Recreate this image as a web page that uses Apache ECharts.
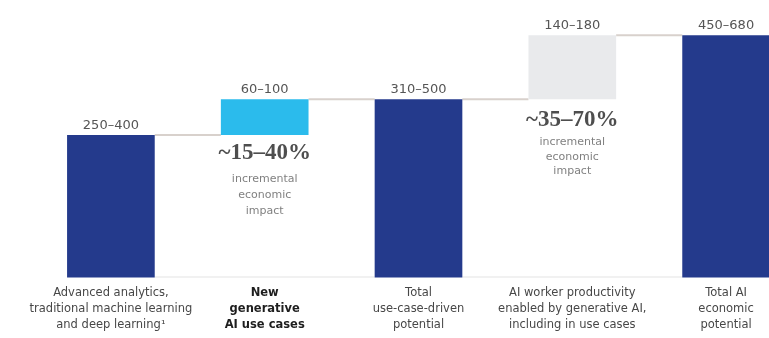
<!DOCTYPE html>
<html>
<head>
<meta charset="utf-8">
<style>
  html, body { margin: 0; padding: 0; background: #ffffff; }
  #chart { width: 769px; height: 338px; }
</style>
<script src="https://cdn.jsdelivr.net/npm/echarts@6/dist/echarts.min.js"></script>
</head>
<body>
<div id="chart"></div>
<script>
// Step categories of the AI economic potential waterfall ($ trillion ranges)
const categories = [
  'Advanced analytics,\ntraditional machine learning\nand deep learning¹',
  'New\ngenerative\nAI use cases',
  'Total\nuse-case-driven\npotential',
  'AI worker productivity\nenabled by generative AI,\nincluding in use cases',
  'Total AI\neconomic\npotential'
];
const rangeLow = [250, 60, 310, 140, 450];
const rangeHigh = [400, 100, 500, 180, 680];
// 'total' bars stand on the baseline, the others float on the running total
const stepKind = ['total', 'genai', 'total', 'productivity', 'total'];
const impactRange = [null, '~15–40%', null, '~35–70%', null];
const impactNote = ['incremental', 'economic', 'impact'];

const NAVY = '#243a8c';
const SKY = '#2bbbec';
const PALE = '#e9eaec';
const kindColor = { total: NAVY, genai: SKY, productivity: PALE };
const FONT = '"DejaVu Sans", "Liberation Sans", sans-serif';
const BAR_RATIO = 0.57;

// running totals: floating steps start where the previous step ended
const baseVals = [];
const topVals = [];
stepKind.forEach((k, i) => {
  const base = k === 'total' ? 0 : topVals[i - 1];
  baseVals.push(base);
  topVals.push(base + rangeHigh[i]);
});

// connectors: [from bar, level, kind (1 = step, 0 = floor), to bar]
const connectorData = [];
for (let i = 0; i < categories.length - 1; i++) {
  connectorData.push([i, topVals[i], 1, i + 1]);
}
const totalIdx = stepKind.map((k, i) => (k === 'total' ? i : -1)).filter(i => i >= 0);
for (let t = 0; t < totalIdx.length - 1; t++) {
  connectorData.push([totalIdx[t], 0, 0, totalIdx[t + 1]]);
}

// note layout for each floating step (gap under the bar, headline line height, note line height)
const noteLayout = {
  genai: { distance: 0, bigLine: 36, smallLine: 16 },
  productivity: { distance: 5, bigLine: 31, smallLine: 14.5 }
};

const impactData = [];
impactRange.forEach((r, i) => {
  if (!r) return;
  const lay = noteLayout[stepKind[i]];
  impactData.push({
    value: [i, baseVals[i]],
    name: r,
    label: {
      distance: lay.distance,
      rich: {
        big: { lineHeight: lay.bigLine },
        small: { lineHeight: lay.smallLine }
      }
    }
  });
});

const chart = echarts.init(document.getElementById('chart'), null, { renderer: 'canvas' });

chart.setOption({
  animation: false,
  backgroundColor: '#ffffff',
  grid: {
    left: 34, top: 28, right: -34, bottom: 60.5,
    containLabel: false,
    outerBoundsMode: 'none'
  },
  xAxis: {
    type: 'category',
    data: categories,
    axisTick: { show: false },
    axisLine: { show: false },
    axisLabel: {
      interval: 0,
      margin: 8,
      color: '#474747',
      fontFamily: FONT,
      fontSize: 11.5,
      lineHeight: 16,
      formatter: (v, i) => stepKind[i] === 'genai'
        ? v.split('\n').map(s => '{b|' + s + '}').join('\n')
        : v,
      rich: {
        b: { fontWeight: 'bold', color: '#1e1e1e', fontFamily: FONT, fontSize: 11.5, lineHeight: 16 }
      }
    }
  },
  yAxis: {
    type: 'value',
    min: 0,
    max: 700,
    show: false,
    splitLine: { show: false }
  },
  series: [
    {
      type: 'bar',
      stack: 'steps',
      barWidth: (BAR_RATIO * 100) + '%',
      itemStyle: { color: 'transparent' },
      emphasis: { disabled: true },
      data: baseVals,
      z: 2
    },
    {
      type: 'bar',
      stack: 'steps',
      barWidth: (BAR_RATIO * 100) + '%',
      emphasis: { disabled: true },
      z: 2,
      label: {
        show: true,
        position: 'top',
        distance: 3,
        color: '#555555',
        fontFamily: FONT,
        fontSize: 13,
        formatter: p => rangeLow[p.dataIndex] + '–' + rangeHigh[p.dataIndex]
      },
      data: rangeHigh.map((v, i) => ({
        value: v,
        itemStyle: { color: kindColor[stepKind[i]] }
      }))
    },
    {
      // connector segments drawn between bar edges
      type: 'custom',
      z: 1,
      silent: true,
      data: connectorData,
      renderItem: (params, api) => {
        const from = api.value(0);
        const lvl = api.value(1);
        const isStep = api.value(2) === 1;
        const to = api.value(3);
        const p = api.coord([from, lvl]);
        const q = api.coord([to, lvl]);
        const half = api.size([1, 0])[0] * BAR_RATIO / 2;
        const y = isStep ? p[1] : p[1] - 0.5;
        return {
          type: 'line',
          shape: { x1: p[0] + half, y1: y, x2: q[0] - half, y2: y },
          style: isStep
            ? { stroke: '#d8d1cc', lineWidth: 2 }
            : { stroke: '#ececec', lineWidth: 1.5 }
        };
      }
    },
    {
      // incremental impact notes under the floating steps
      type: 'scatter',
      symbolSize: 0,
      silent: true,
      z: 3,
      data: impactData,
      label: {
        show: true,
        position: 'bottom',
        align: 'center',
        formatter: p => '{big|' + p.name + '}\n' + impactNote.map(s => '{small|' + s + '}').join('\n'),
        rich: {
          big: {
            fontFamily: '"Liberation Serif", "DejaVu Serif", serif',
            fontWeight: 'bold',
            fontSize: 23,
            color: '#222222',
            align: 'center'
          },
          small: {
            fontFamily: FONT,
            fontSize: 11,
            color: '#5f5f5f',
            align: 'center'
          }
        }
      }
    }
  ]
});
</script>
</body>
</html>
